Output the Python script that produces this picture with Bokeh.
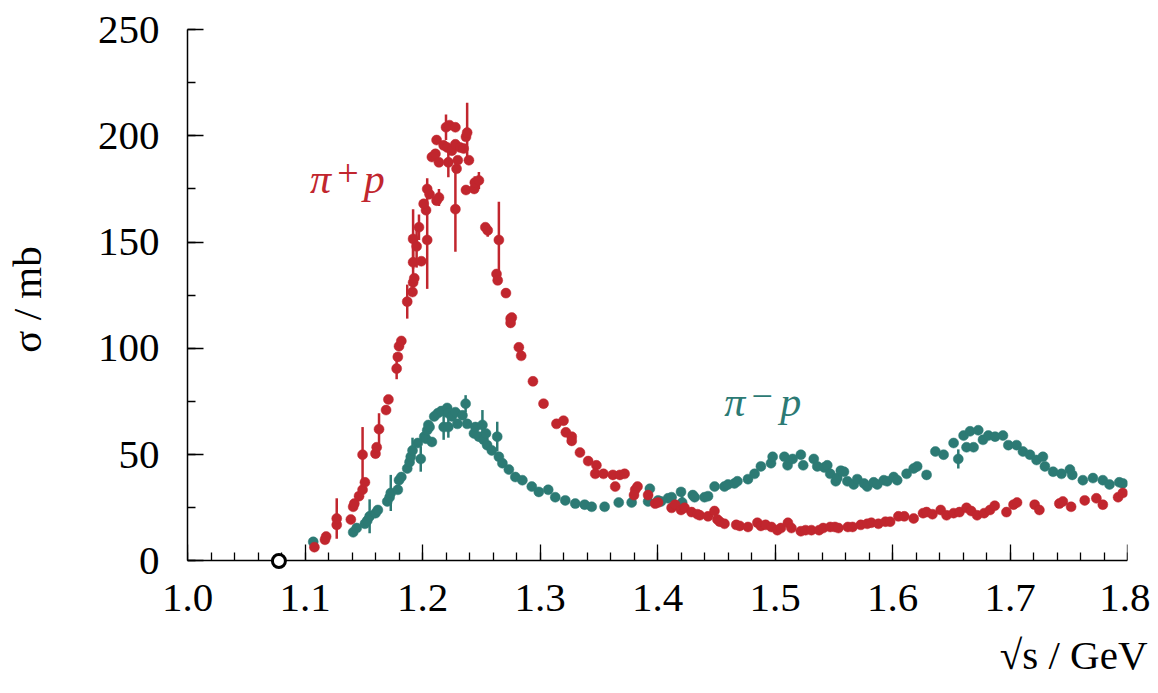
from bokeh.plotting import figure
from bokeh.models import Label, Title, FixedTicker, PrintfTickFormatter, ColumnDataSource, LinearAxis
from bokeh.embed import file_html
from bokeh.resources import INLINE

# ---------------- data ----------------
# pi+ p total cross section (sqrt(s) in GeV, sigma in mb, error in mb)
pip_x = [1.108, 1.117, 1.118, 1.127, 1.127, 1.139, 1.141, 1.142, 1.146, 1.149, 1.149, 1.151,
         1.160, 1.161, 1.163, 1.169, 1.171, 1.178, 1.179, 1.180, 1.182, 1.187, 1.1915, 1.192,
         1.193, 1.192, 1.192, 1.195, 1.197, 1.199, 1.203, 1.201, 1.204, 1.204, 1.206, 1.208,
         1.211, 1.212, 1.214, 1.214, 1.212, 1.218, 1.220, 1.221, 1.223, 1.225, 1.222, 1.228,
         1.228, 1.228, 1.229, 1.230, 1.232, 1.235, 1.237, 1.237, 1.238, 1.2395, 1.244, 1.2445,
         1.248, 1.2535, 1.2555, 1.263, 1.264, 1.265, 1.271, 1.275, 1.276, 1.275, 1.282, 1.284,
         1.294, 1.303, 1.314, 1.320, 1.322, 1.327, 1.327, 1.334, 1.341, 1.348, 1.347, 1.354,
         1.362, 1.364, 1.368, 1.372, 1.381, 1.383, 1.380, 1.392, 1.398, 1.4005, 1.412, 1.415,
         1.420, 1.423, 1.429, 1.434, 1.436, 1.443, 1.4485, 1.451, 1.453, 1.457, 1.467, 1.470,
         1.477, 1.485, 1.488, 1.492, 1.497, 1.502, 1.505, 1.511, 1.514, 1.522, 1.526, 1.531,
         1.5375, 1.541, 1.547, 1.551, 1.554, 1.562, 1.566, 1.573, 1.5785, 1.582, 1.588, 1.594,
         1.598, 1.605, 1.610, 1.618, 1.626, 1.629, 1.634, 1.641, 1.646, 1.652, 1.657, 1.663,
         1.667, 1.672, 1.678, 1.683, 1.687, 1.697, 1.703, 1.706, 1.721, 1.725, 1.742, 1.745,
         1.752, 1.7636, 1.7735, 1.779, 1.792, 1.796]
pip_y = [6.5, 10, 11.5, 17, 20, 19.5, 25.5, 27, 30.5, 33.5, 50, 37,
         50.5, 53.5, 62, 71, 76, 90.5, 96, 101, 103.5, 122, 126.5, 131,
         133, 140.5, 151.5, 148, 157, 141, 165, 168, 151, 175, 172.5, 190,
         191.5, 169.5, 171, 187.5, 198, 195.5, 204, 194.5, 205, 193, 187.5, 204,
         196, 165.5, 184.5, 188.5, 194.5, 194, 174.5, 199.5, 201.5, 188.5, 175, 178,
         179, 157, 155.5, 135, 132, 151, 126, 114, 114.5, 112, 100.5, 96.5,
         84.5, 74, 64.5, 66, 60.5, 58.5, 56.5, 51, 47, 45, 41, 41,
         40.5, 35, 40.5, 41, 33.5, 35, 31, 31, 27, 27.5, 25, 26.5,
         24, 25, 23, 22, 21.5, 21, 23.5, 19.5, 18.5, 17.5, 17, 16.5,
         16, 18, 16.5, 17, 16, 14.5, 15.5, 18, 15.5, 14, 14.5, 14.5,
         14.5, 15.5, 16, 16, 15.5, 16, 16, 17, 17.5, 18, 17.5, 18.5,
         18.5, 21, 21, 20, 22.5, 23, 22, 24, 21.5, 22.5, 23, 25,
         23.5, 21.5, 22.5, 24, 26, 23, 26.5, 27.5, 26.5, 24, 27, 28,
         25.5, 28.5, 29.5, 26.5, 30, 32]
pip_err = [0, 0, 1.5, 0, 9.5, 1.5, 0, 0, 0, 0, 13, 0,
           0, 1.5, 7.5, 0, 2, 5, 0, 0, 0, 8, 0, 0,
           0, 11, 14, 10, 6, 0, 0, 0, 23, 5, 0, 0,
           0, 0, 4, 0, 0, 0, 6, 0, 0, 0, 7, 0,
           0, 20, 0, 0, 0, 0, 0, 0, 14, 0, 0, 3,
           4, 0, 3, 0, 0, 18, 0, 0, 0, 0, 0, 0,
           1, 0, 0, 0, 0, 0, 0, 0, 0, 0, 0, 0,
           0, 0, 0, 0, 0, 0, 0, 0, 0, 0, 0, 0,
           0, 0, 0, 0, 0, 0, 0, 0, 0, 2, 0, 0,
           0, 0, 0, 0, 0, 0, 0, 0, 0, 0, 0, 0,
           0, 0, 0, 0, 0, 0, 0, 0, 0, 0, 0, 0,
           0, 0, 0, 0, 0, 0, 0, 0, 0, 0, 0, 0,
           0, 0, 0, 0, 0, 0, 0, 0, 0, 0, 0, 0,
           0, 0, 0, 0, 0, 0]

# pi- p total cross section
pim_x = [1.107, 1.141, 1.144, 1.151, 1.153, 1.155, 1.160, 1.162, 1.170, 1.172, 1.173, 1.179,
         1.180, 1.182, 1.187, 1.189, 1.190, 1.1915, 1.196, 1.1985, 1.2015, 1.203, 1.204, 1.205,
         1.206, 1.208, 1.210, 1.213, 1.216, 1.218, 1.221, 1.222, 1.225, 1.228, 1.2297, 1.222,
         1.234, 1.2367, 1.238, 1.2438, 1.245, 1.248, 1.251, 1.252, 1.254, 1.255, 1.259, 1.2636,
         1.265, 1.268, 1.2735, 1.279, 1.285, 1.293, 1.299, 1.307, 1.313, 1.3215, 1.330, 1.338,
         1.344, 1.355, 1.367, 1.378, 1.392, 1.3935, 1.4005, 1.403, 1.409, 1.412, 1.420, 1.421,
         1.430, 1.4316, 1.440, 1.443, 1.4486, 1.457, 1.460, 1.4655, 1.468, 1.477, 1.4826, 1.488,
         1.4966, 1.498, 1.508, 1.5107, 1.515, 1.522, 1.524, 1.533, 1.536, 1.5418, 1.5445, 1.547,
         1.5517, 1.553, 1.556, 1.5587, 1.5616, 1.567, 1.570, 1.5757, 1.5785, 1.584, 1.587, 1.5926,
         1.5955, 1.601, 1.604, 1.612, 1.618, 1.621, 1.629, 1.6365, 1.6435, 1.652, 1.656, 1.6605,
         1.663, 1.666, 1.669, 1.673, 1.677, 1.6816, 1.6873, 1.694, 1.6986, 1.7056, 1.711, 1.717,
         1.7226, 1.728, 1.7297, 1.7367, 1.7438, 1.751, 1.753, 1.762, 1.7706, 1.779, 1.7847, 1.793,
         1.796]
pim_y = [9, 13.5, 15.5, 17.5, 19, 21, 22.5, 24, 28, 30, 32, 33.5,
         38, 39.5, 43.5, 46.5, 49, 52, 55.5, 48, 58.5, 57.5, 61.5, 64,
         63, 56, 68, 69.5, 70.5, 63, 72, 69.5, 68, 70, 64.5, 63,
         68.5, 74, 64.5, 60, 63, 58.5, 64, 57, 60, 54.5, 52, 58.5,
         49, 46, 43, 39.5, 38, 35, 32.5, 33.5, 30, 28.5, 27, 26.5,
         25.5, 25.5, 27.5, 27.5, 28, 34, 28.5, 28, 29.5, 30, 32.5, 27.5,
         31, 30, 30, 30.5, 35, 35, 36, 36.5, 37.5, 38.5, 41, 44.5,
         46, 49, 49, 45, 48, 50, 45, 48, 44.5, 44, 45, 41,
         37.5, 39, 42.5, 42, 37.5, 36, 38.5, 36.5, 35, 37, 36, 38,
         37.5, 39.5, 38, 41, 43.5, 44.5, 40.5, 51.5, 50, 55.5, 48, 59,
         53.5, 61, 53.5, 61.5, 57, 59, 58.5, 59, 54.5, 54.5, 51.5, 50,
         47.5, 49, 44.5, 42, 41, 43, 40.5, 38, 39, 38, 36, 37,
         36.5]
pim_err = [0, 0, 0, 0, 0, 8, 0, 0, 0, 0, 8.5, 0,
           0, 0, 0, 0, 0, 6, 0, 6, 0, 0, 0, 0,
           0, 0, 0, 0, 0, 6, 0, 0, 0, 0, 0, 5,
           0, 4, 0, 0, 0, 0, 7, 0, 0, 0, 0, 7,
           0, 0, 0, 0, 0, 0, 0, 0, 0, 0, 0, 0,
           0, 0, 0, 0, 0, 0, 0, 0, 0, 0, 0, 3,
           0, 0, 0, 0, 0, 0, 0, 0, 0, 0, 0, 0,
           0, 0, 0, 0, 0, 0, 0, 0, 0, 0, 0, 0,
           0, 0, 0, 0, 0, 0, 0, 0, 0, 0, 0, 0,
           0, 0, 0, 0, 0, 0, 0, 0, 0, 0, 4.5, 0,
           0, 0, 0, 0, 0, 0, 0, 0, 0, 0, 0, 0,
           0, 0, 0, 0, 0, 0, 0, 0, 0, 0, 0, 0,
           0]

threshold_x = [1.0778]
threshold_y = [0.0]

x_ticks = [1.0, 1.1, 1.2, 1.3, 1.4, 1.5, 1.6, 1.7, 1.8]
y_ticks = [0, 50, 100, 150, 200, 250]

RED = "#c1262e"
TEAL = "#2c7a74"
FONT = "Liberation Serif"

# ---------------- figure ----------------
p = figure(width=1150, height=693, x_range=(1.0, 1.8), y_range=(-4, 250),
           output_backend="svg", toolbar_location=None,
           min_border_left=184, min_border_right=23, min_border_top=29, min_border_bottom=124)
p.title.visible = False
p.outline_line_color = None
p.grid.visible = False
p.background_fill_color = "white"
p.border_fill_color = "white"

minor_x = [round(1.0 + 0.02 * i, 3) for i in range(41)]
minor_y = [25 * i for i in range(11)]

# x axis line and ticks drawn at sigma = 0
xax = p.xaxis[0]
yax = p.yaxis[0]
xax.ticker = FixedTicker(ticks=x_ticks, minor_ticks=minor_x)
xax.fixed_location = 0
xax.major_label_text_color = None
yax.ticker = FixedTicker(ticks=y_ticks, minor_ticks=minor_y)
yax.bounds = (0, 250)

for ax in (xax, yax):
    ax.axis_line_color = "black"
    ax.axis_line_width = 1.5
    ax.major_tick_in = 16
    ax.major_tick_out = 0
    ax.minor_tick_in = 8
    ax.minor_tick_out = 0
    ax.major_tick_line_color = "black"
    ax.minor_tick_line_color = "black"
    ax.major_tick_line_width = 1.3
    ax.minor_tick_line_width = 1.3
    ax.major_label_text_font = FONT
    ax.major_label_text_font_size = "41px"

yax.major_label_text_color = "black"
yax.major_label_standoff = 28
yax.axis_label = "σ / mb"
yax.axis_label_text_font = FONT
yax.axis_label_text_font_size = "41px"
yax.axis_label_text_font_style = "normal"
yax.axis_label_text_color = "black"
yax.axis_label_standoff = 45

# x tick labels (separate axis carrying only the labels)
lab_ax = LinearAxis(ticker=FixedTicker(ticks=x_ticks, minor_ticks=[]),
                    formatter=PrintfTickFormatter(format="%.1f"),
                    axis_line_color=None, major_tick_line_color=None, minor_tick_line_color=None,
                    major_tick_in=0, major_tick_out=0, minor_tick_in=0, minor_tick_out=0,
                    major_label_standoff=15, major_label_text_font=FONT,
                    major_label_text_font_size="41px", major_label_text_color="black")
p.add_layout(lab_ax, "below")

# x axis title, right aligned below the axis
p.add_layout(Title(text="√s / GeV", align="right", offset=-20, standoff=32,
                   text_font=FONT, text_font_size="41px", text_font_style="normal",
                   text_color="black"), "below")

# error bars
def bars(xs, ys, es):
    bx, lo, hi = [], [], []
    for x, y, e in zip(xs, ys, es):
        if e > 0:
            bx.append(x); lo.append(y - e); hi.append(y + e)
    return ColumnDataSource(dict(x=bx, lo=lo, hi=hi))

p.segment(x0="x", y0="lo", x1="x", y1="hi", source=bars(pim_x, pim_y, pim_err),
          line_color=TEAL, line_width=2.5)
p.scatter(pim_x, pim_y, size=10, fill_color=TEAL, line_color=TEAL, line_width=0.5)
p.segment(x0="x", y0="lo", x1="x", y1="hi", source=bars(pip_x, pip_y, pip_err),
          line_color=RED, line_width=2.5)
p.scatter(pip_x, pip_y, size=10, fill_color=RED, line_color=RED, line_width=0.5)

# threshold marker (open circle on the axis)
p.scatter(threshold_x, threshold_y, size=13, fill_color="white", line_color="black",
          line_width=3, level="overlay")

# series labels (symbol, raised charge, p)
def series_label(x0, x1, x2, y, ysup, sign, color):
    p.add_layout(Label(x=x0, y=y, text="π", text_color=color, text_font=FONT,
                       text_font_size="42px", text_font_style="italic"))
    p.add_layout(Label(x=x1, y=ysup, text=sign, text_color=color, text_font=FONT,
                       text_font_size="38px", text_baseline="middle"))
    p.add_layout(Label(x=x2, y=y, text="p", text_color=color, text_font=FONT,
                       text_font_size="42px", text_font_style="italic"))

series_label(1.1042, 1.1275, 1.1500, 168.7, 182.5, "+", RED)
series_label(1.4568, 1.4800, 1.5045, 63.9, 77.5, "−", TEAL)

open("out.html", "w").write(file_html(p, INLINE))
